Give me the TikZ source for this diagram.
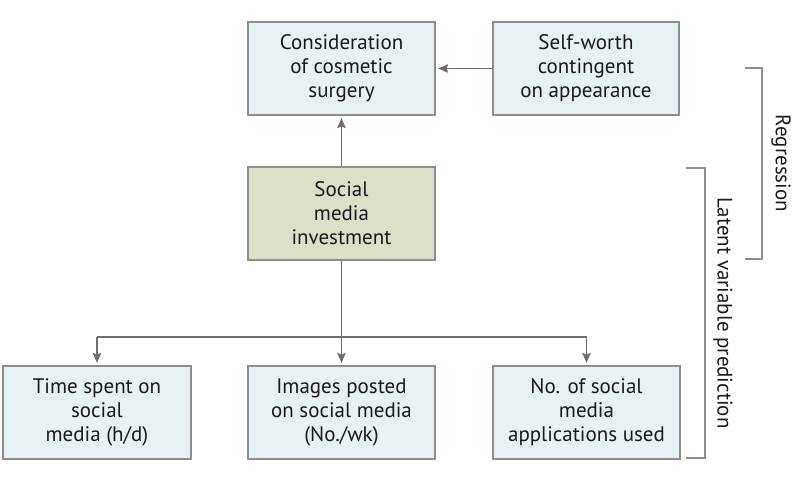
\documentclass[tikz,border=0pt]{standalone}
\usepackage{fontspec}
\setmainfont{PT Sans}
\usetikzlibrary{arrows.meta,calc}
\definecolor{boxfill}{HTML}{E8F1F4}
\definecolor{midfill}{HTML}{DDDFCB}
\definecolor{boxline}{HTML}{8E8E8E}
\definecolor{arrline}{HTML}{6E6E6E}
\definecolor{txt}{HTML}{1A1A1A}
\tikzset{
  box/.style={draw=boxline, line width=1.2pt, fill=boxfill, minimum width=187pt, minimum height=93pt,
    inner sep=0pt, align=center, text=txt, font=\fontsize{21}{24}\selectfont},
  midbox/.style={box, fill=midfill},
  arr/.style={draw=arrline, line width=1.2pt, -{Stealth[length=10pt,width=8.5pt,inset=1.5pt]}, shorten >=2.5pt},
  conn/.style={draw=arrline, line width=1.2pt},
  brk/.style={draw=boxline, line width=1.1pt},
  brktext/.style={rotate=-90, text=txt, font=\fontsize{21}{24}\selectfont, inner sep=0pt}
}
\begin{document}
\begin{tikzpicture}[x=1pt,y=-1pt]
\useasboundingbox (0,0) rectangle (794,479);
\node[box] (cons) at (341.5,68.5) {Consideration\\of cosmetic\\surgery};
\node[box, minimum width=186pt] (self) at (586,68.5) {Self-worth\\contingent\\on appearance};
\node[midbox] (smi) at (341.5,213.5) {Social\\media\\investment};
\node[box, minimum width=188pt] (time) at (97,412.5) {Time spent on\\social\\media (h/d)};
\node[box] (img) at (341.5,412.5) {Images posted\\on social media\\(No./wk)};
\node[box] (apps) at (586.5,412.5) {No. of social\\media\\applications used};
\coordinate (j) at (341.5,337);
\draw[arr] (self.west) -- (cons.east);
\draw[arr] (smi.north) -- (cons.south);
\draw[arr] (smi.south) -- (img.north);
\draw[conn] (time.north |- j) -- (apps.north |- j);
\draw[arr] (time.north |- j) -- (time.north);
\draw[arr] (apps.north |- j) -- (apps.north);
\draw[brk] (745,68) -- (762,68) -- (762,259) -- (745,259);
\draw[brk] (686,168) -- (705,168) -- (705,458) -- (686,458);
\node[brktext] (reg) at (781,163.5) {Regression};
\node[brktext] (lat) at (723,313) {Latent variable prediction};
\end{tikzpicture}
\end{document}
